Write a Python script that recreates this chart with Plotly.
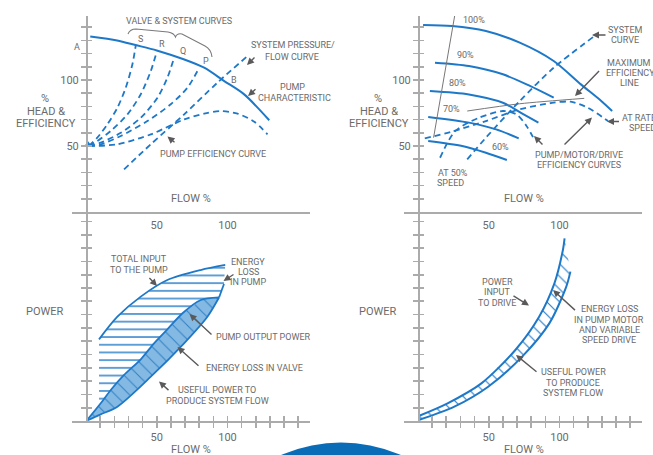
import plotly.graph_objects as go

W, H = 653, 455

# ---------------- data ----------------
# Top-left: throttled control
pump_x = [3, 22, 35, 50, 69, 83.5, 97.7, 111.8, 129.5]
pump_y = [133, 130, 126.5, 122.4, 115.7, 109.3, 99.2, 89.1, 69.5]
valve_s_x = [2, 8, 15.1, 22.2, 28.1, 32.8, 35.2]
valve_s_y = [50, 56.3, 66.4, 79, 94.2, 111.9, 126.5]
valve_r_x = [2, 8, 17.5, 29.3, 38.7, 45.8, 50]
valve_r_y = [50, 53.8, 61.4, 74, 89.2, 106.8, 121.4]
valve_q_x = [2, 10.4, 24.6, 38.7, 50.5, 57.5, 62.3]
valve_q_y = [50, 52.5, 60, 71.4, 86.6, 101.7, 116.9]
valve_p_x = [2, 10.4, 24.6, 43.4, 59.9, 71.7, 80]
valve_p_y = [50, 51.3, 57.6, 68.9, 81.6, 94.2, 109.3]
pump_eff_x = [2, 22.2, 45.8, 69.4, 83.5, 95.3, 107.1, 118.9, 128.3]
pump_eff_y = [50, 51.3, 58.8, 70.2, 74.5, 76.5, 74.5, 68.4, 58.8]
sys_x = [26.9, 45.8, 69.4, 92.9, 114.2]
sys_y = [32.3, 51.3, 74, 98, 118.2]
valve_origin_x = [1.5]
valve_origin_y = [51]

# Top-right: variable speed
sp100_x = [3.6, 24, 48, 71.9, 95.9, 115.1, 129.5, 137.2]
sp100_y = [141.7, 140.9, 137.1, 128.3, 114.4, 96.7, 84.1, 76.5]
sp90_x = [12, 36, 60, 79.1, 95.9]
sp90_y = [113.1, 110.6, 104.3, 95.5, 86.6]
sp80_x = [8.4, 36, 60, 73.4, 85.1]
sp80_y = [91.7, 89.1, 82.8, 74.7, 67.7]
sp70_x = [7.2, 36, 55.2, 71.2]
sp70_y = [72, 67.7, 62.6, 55.8]
sp60_x = [7.2, 31.2, 48, 62.8]
sp60_y = [53.8, 50, 44.9, 39.4]
speed_line_x = [11, 25.9]
speed_line_y = [56.3, 148.5]
max_eff_x = [34.8, 71.9, 117.5]
max_eff_y = [76.5, 82, 86.1]
eff_rated_x = [4.8, 24, 48, 71.9, 95.9, 107.9, 119.9, 134.3]
eff_rated_y = [55.8, 60.9, 68.9, 77.8, 82.8, 83.6, 79, 68.9]
eff_low_x = [15.6, 26.4, 43.2, 60, 69.5, 76.7, 82.7]
eff_low_y = [41.1, 61.4, 71.4, 76.5, 74, 65.2, 53.8]
sys2_x = [34.8, 48, 71.9, 95.9, 124.7]
sys2_y = [39.9, 56.3, 84.1, 109.3, 133.3]

# Bottom-left: power, throttled
input_x = [9.2, 22.2, 38.7, 57.5, 81, 98.4]
input_y = [61.4, 78.4, 93.5, 106, 113.5, 117.3]
pump_out_x = [0.5, 10.4, 17.5, 26.9, 38.7, 48.1, 57.5, 68.2, 81.1, 94.1, 97.5]
pump_out_y = [0.3, 13.3, 23.3, 34.6, 46.4, 58.4, 68.9, 81, 91, 93, 103]
useful_x = [0.5, 10.4, 22.2, 45.8, 69.3, 85.8, 94.1]
useful_y = [0.3, 5, 10.8, 33.3, 58.4, 78.4, 93]

# Bottom-right: power, variable speed
drive_in_x = [0.5, 20.9, 44.8, 68.8, 85.6, 96.4, 102.4, 103.6]
drive_in_y = [3.8, 13.3, 28.3, 53.4, 78.4, 103.5, 128.6, 137.3]
useful2_x = [0.5, 25.7, 49.6, 73.6, 92.8, 104.8, 107.7]
useful2_y = [0.75, 10.8, 25.8, 48.4, 73.4, 101, 112.3]

head_ticks = list(range(10, 150, 10))
power_ticks = list(range(10, 160, 10))
flow_ticks = list(range(10, 160, 10))
flow_labels = ["50", "100"]
head_labels = ["50", "100"]

# ---------------- style ----------------
BLUE = "#1e78c8"
LENS_BG = "#84b9e3"
LENS_LINE = "#2f80c4"
TXT = "#6b6b6b"
AXC = "#ababab"
ARROW = "#5a5a5a"
FONT = "Roboto"
CLEAR = "rgba(0,0,0,0)"


def px(x):
    return x / W


def py(y):
    return 1 - y / H


fig = go.Figure()

def line(xs, ys, xa, ya, dash=None, width=2, color=BLUE, shape="spline"):
    fig.add_trace(go.Scatter(
        x=xs, y=ys, xaxis=xa, yaxis=ya, mode="lines",
        line=dict(color=color, width=width, dash=dash, shape=shape, smoothing=0.8),
        hoverinfo="skip", showlegend=False))

DASH = "6px,4px"

# top-left
line(pump_x, pump_y, "x", "y")
for vx, vy in [(valve_s_x, valve_s_y), (valve_r_x, valve_r_y),
               (valve_q_x, valve_q_y), (valve_p_x, valve_p_y)]:
    line(vx, vy, "x", "y", dash=DASH, width=1.8)
line(pump_eff_x, pump_eff_y, "x", "y", dash=DASH, width=1.8)
line(sys_x, sys_y, "x", "y", dash=DASH, width=1.8)
fig.add_trace(go.Scatter(x=valve_origin_x, y=valve_origin_y, xaxis="x", yaxis="y",
                         mode="markers", marker=dict(symbol="triangle-up", size=7, color=BLUE),
                         hoverinfo="skip", showlegend=False))

# top-right
for sx, sy in [(sp100_x, sp100_y), (sp90_x, sp90_y), (sp80_x, sp80_y),
               (sp70_x, sp70_y), (sp60_x, sp60_y)]:
    line(sx, sy, "x2", "y2")
line(speed_line_x, speed_line_y, "x2", "y2", width=1, color="#777777", shape="linear")
line(max_eff_x, max_eff_y, "x2", "y2", width=1, color="#777777")
line(eff_rated_x, eff_rated_y, "x2", "y2", dash=DASH, width=1.8)
line(eff_low_x, eff_low_y, "x2", "y2", dash=DASH, width=1.8)
line(sys2_x, sys2_y, "x2", "y2", dash=DASH, width=1.8)

# bottom-left: horizontal hatch (loss region)
lx0 = input_x[0]
t = (lx0 - pump_out_x[0]) / (pump_out_x[1] - pump_out_x[0])
ly0 = pump_out_y[0] + t * (pump_out_y[1] - pump_out_y[0])
hatch_x = input_x + pump_out_x[:0:-1] + [lx0]
hatch_y = input_y + pump_out_y[:0:-1] + [ly0]
fig.add_trace(go.Scatter(
    x=hatch_x, y=hatch_y, xaxis="x3", yaxis="y3", mode="lines", fill="toself",
    line=dict(width=0, color=CLEAR),
    fillpattern=dict(shape="-", fgcolor=BLUE, bgcolor="white", size=7.7, solidity=0.18, fillmode="replace"),
    hoverinfo="skip", showlegend=False))
lens_x = pump_out_x[:-1] + useful_x[::-1]
lens_y = pump_out_y[:-1] + useful_y[::-1]
fig.add_trace(go.Scatter(
    x=lens_x, y=lens_y, xaxis="x3", yaxis="y3", mode="lines", fill="toself",
    line=dict(width=0, color=CLEAR),
    fillpattern=dict(shape="\\", fgcolor=LENS_LINE, bgcolor=LENS_BG, size=10, solidity=0.1, fillmode="replace"),
    hoverinfo="skip", showlegend=False))
line(input_x, input_y, "x3", "y3", width=1.8)
line(pump_out_x[:-1], pump_out_y[:-1], "x3", "y3", width=1.8)
line(pump_out_x[-2:], pump_out_y[-2:], "x3", "y3", width=1.8, shape="linear")
line(useful_x, useful_y, "x3", "y3", width=1.8)

# bottom-right: hatched band
band_x = drive_in_x + useful2_x[::-1]
band_y = drive_in_y + useful2_y[::-1]
fig.add_trace(go.Scatter(
    x=band_x, y=band_y, xaxis="x4", yaxis="y4", mode="lines", fill="toself",
    line=dict(width=0, color=CLEAR),
    fillpattern=dict(shape="\\", fgcolor=BLUE, bgcolor="white", size=9, solidity=0.12, fillmode="replace"),
    hoverinfo="skip", showlegend=False))
line(drive_in_x, drive_in_y, "x4", "y4", width=2)
line(useful2_x, useful2_y, "x4", "y4", width=2)

# dummy traces for overlay (inside-tick) axes
for xa, ya in [("x", "y5"), ("x2", "y6"), ("x3", "y7"), ("x4", "y8"), ("x5", "y3"), ("x6", "y4")]:
    fig.add_trace(go.Scatter(x=[None], y=[None], xaxis=xa, yaxis=ya, showlegend=False, hoverinfo="skip"))

# ---------------- axes ----------------
XR = [-(86 - 72) / 1.415, (310 - 86) / 1.415]
TOP_DOM = [py(212), py(16)]
BOT_DOM = [py(421), py(210)]
TOP_YR = [0, (212 - 16) / 1.32]
BOT_YR = [0, (421 - 210) / 1.33]
LDOM = [px(72), px(310)]
RDOM = [px(404), px(642)]

tickfont = dict(family=FONT, size=11, color=TXT)

def head_text(v):
    return str(v) if str(v) in head_labels else ""

def flow_text(v):
    return str(v) if str(v) in flow_labels else ""

common = dict(showgrid=False, zeroline=False, linecolor=AXC, linewidth=1.6, tickcolor=AXC,
              tickwidth=1.6, tickfont=tickfont, fixedrange=True)

lay = {}
for i, (dom, ypos) in enumerate([(LDOM, px(86)), (RDOM, px(418))]):
    n = i + 1
    sfx = "" if n == 1 else str(n)
    # top panels
    lay["xaxis" + sfx] = dict(common, domain=dom, range=XR, anchor="y" + sfx, showline=True,
                              tickvals=[50, 100], ticktext=flow_labels, ticks="", ticklabelstandoff=2)
    lay["yaxis" + sfx] = dict(common, domain=TOP_DOM, range=TOP_YR, anchor="free", position=ypos,
                              showline=True, tickvals=head_ticks,
                              ticktext=[head_text(v) for v in head_ticks], ticks="outside", ticklen=5)
    lay["yaxis" + str(n + 4)] = dict(common, range=TOP_YR, overlaying="y" + sfx, anchor="free",
                                     position=ypos, showline=False, tickvals=head_ticks,
                                     showticklabels=False, ticks="inside", ticklen=5)
    # bottom panels
    m = n + 2
    lay["xaxis" + str(m)] = dict(common, domain=dom, range=XR, anchor="y" + str(m), showline=True,
                                 tickvals=flow_ticks, ticktext=[flow_text(v) for v in flow_ticks],
                                 ticks="outside", ticklen=5)
    lay["xaxis" + str(n + 4)] = dict(common, range=XR, overlaying="x" + str(m), anchor="y" + str(m),
                                     showline=False, tickvals=flow_ticks, showticklabels=False,
                                     ticks="inside", ticklen=5)
    lay["yaxis" + str(m)] = dict(common, domain=BOT_DOM, range=BOT_YR, anchor="free", position=ypos,
                                 showline=True, tickvals=power_ticks, showticklabels=False,
                                 ticks="outside", ticklen=5)
    lay["yaxis" + str(m + 4)] = dict(common, range=BOT_YR, overlaying="y" + str(m), anchor="free",
                                     position=ypos, showline=False, tickvals=power_ticks,
                                     showticklabels=False, ticks="inside", ticklen=5)

fig.update_layout(width=W, height=H, margin=dict(l=0, r=0, t=0, b=0),
                  plot_bgcolor=CLEAR, paper_bgcolor="white", showlegend=False, **lay)

# ---------------- text ----------------
def label(text, x, y, size=9, anchor="center"):
    fig.add_annotation(text=text, x=px(x), y=py(y), xref="paper", yref="paper", showarrow=False,
                       font=dict(family=FONT, size=size, color=TXT), xanchor=anchor, yanchor="middle")

def arrow(x0, y0, x1, y1):
    fig.add_annotation(text="", x=px(x1), y=py(y1), xref="paper", yref="paper",
                       ax=x0 - x1, ay=y0 - y1, axref="pixel", ayref="pixel", showarrow=True,
                       arrowhead=2, arrowsize=1, arrowwidth=1.4, arrowcolor=ARROW)

BIG = 11
for off in (0, 333):
    label("%", 45 + off, 98, BIG)
    label("HEAD &amp;", 46 + off, 111, BIG)
    label("EFFICIENCY", 46 + off, 124, BIG)
    label("FLOW %", 191 + off, 198, BIG)
    label("POWER", 45 + off, 311, BIG)
    label("FLOW %", 191 + off, 449, BIG)

# top-left
label("VALVE &amp; SYSTEM CURVES", 179, 21)
label("A", 77, 47)
label("S", 140, 39)
label("R", 161.5, 44.5)
label("Q", 183, 50.5)
label("P", 206, 61)
label("B", 234, 80)
label("SYSTEM PRESSURE/", 293, 45)
label("FLOW CURVE", 292, 57)
label("PUMP", 292, 87)
label("CHARACTERISTIC", 294, 98)
label("PUMP EFFICIENCY CURVE", 213, 154)
arrow(256, 56, 247, 65)
arrow(257, 88, 248, 96)
arrow(176, 143.5, 167.5, 136.5)

# top-right
label("100%", 474, 20)
label("90%", 465, 55)
label("80%", 457, 83)
label("70%", 451, 109)
label("60%", 500, 147)
label("SYSTEM", 625, 30)
label("CURVE", 625, 40)
label("MAXIMUM", 629, 63)
label("EFFICIENCY", 630, 73)
label("LINE", 629, 83)
label("AT RATED", 642, 118)
label("SPEED", 642, 128)
label("PUMP/MOTOR/DRIVE", 579, 154.5)
label("EFFICIENCY CURVES", 579, 164.5)
label("AT 50%", 453, 173)
label("SPEED", 450, 183)
arrow(607, 35, 592, 35)
arrow(600.5, 69.5, 575, 96)
arrow(620.5, 121.5, 607, 121.5)
arrow(544, 146, 534, 136)
arrow(563, 146, 592, 117.5)

# bottom-left
label("TOTAL INPUT", 139, 259)
label("TO THE PUMP", 139, 270)
label("ENERGY", 248, 262)
label("LOSS", 248, 272)
label("IN PUMP", 248, 282)
label("PUMP OUTPUT POWER", 263, 337)
label("ENERGY LOSS IN VALVE", 254, 368)
label("USEFUL POWER TO", 217, 390)
label("PRODUCE SYSTEM FLOW", 217, 401)
arrow(148, 276.5, 157, 286)
arrow(235, 273.5, 223.5, 281)
arrow(213, 336, 189.5, 314)
arrow(200, 367, 177.5, 347)
arrow(170, 391.5, 159, 381.5)

# bottom-right
label("POWER", 497, 282)
label("INPUT", 497, 292)
label("TO DRIVE", 497, 302.5)
label("ENERGY LOSS", 609, 309)
label("IN PUMP MOTOR", 609, 319.5)
label("AND VARIABLE", 609, 330)
label("SPEED DRIVE", 609, 340)
label("USEFUL POWER", 573, 372)
label("TO PRODUCE", 573, 383)
label("SYSTEM FLOW", 573, 393)
arrow(512, 295, 529, 305.5)
arrow(576.5, 311.5, 553, 290)
arrow(538, 373, 516, 355)

# brace over valve curves (pixel path -> paper)
brace_pts = [("M", 128, 34), ("Q", 130, 29, 136, 29), ("L", 168, 32), ("Q", 174, 33, 175.5, 37),
             ("Q", 177, 33, 182, 34), ("L", 205, 46), ("Q", 211, 49, 212, 57)]
path = ""
for seg in brace_pts:
    cmd, coords = seg[0], seg[1:]
    parts = []
    for j in range(0, len(coords), 2):
        parts.append(f"{px(coords[j]):.5f},{py(coords[j + 1]):.5f}")
    path += cmd + " " + " ".join(parts) + " "
fig.add_shape(type="path", path=path, xref="paper", yref="paper",
              line=dict(color="#7a7a7a", width=1.1))

# decorative blue disc at bottom
cx, cy, r = 341, 592.5, 150
fig.add_shape(type="circle", xref="paper", yref="paper", x0=px(cx - r), x1=px(cx + r),
              y0=py(cy + r), y1=py(cy - r), fillcolor="#0a6cb7", line=dict(width=0), layer="above")

fig.write_html("out.html", config={"displayModeBar": False, "staticPlot": True},
               post_script="document.body.style.margin='0';document.body.style.overflow='hidden';")
